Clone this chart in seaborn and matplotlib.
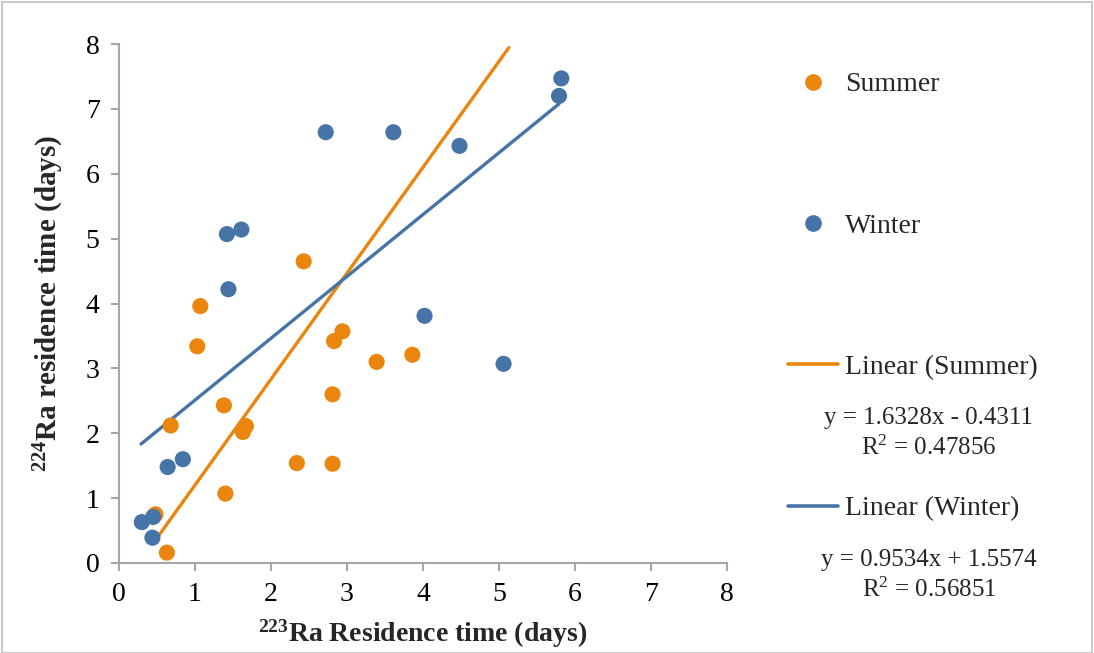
import matplotlib
matplotlib.use("Agg")
import matplotlib.pyplot as plt
import seaborn as sns
import pandas as pd
import numpy as np
from matplotlib.lines import Line2D
from matplotlib.patches import Rectangle

# ---- data ----
summer_x = [2.43, 1.07, 2.94, 2.83, 1.03, 3.39, 3.86, 2.81, 1.38, 0.68, 1.67, 1.63, 2.34, 2.81, 1.40, 0.48, 0.63]
summer_y = [4.65, 3.96, 3.57, 3.42, 3.34, 3.10, 3.21, 2.60, 2.43, 2.12, 2.11, 2.02, 1.54, 1.53, 1.07, 0.75, 0.16]
winter_x = [2.72, 3.61, 1.42, 1.61, 1.44, 4.02, 0.64, 0.84, 0.30, 0.45, 0.44, 5.82, 5.79, 4.48, 5.06]
winter_y = [6.64, 6.64, 5.07, 5.14, 4.22, 3.81, 1.48, 1.60, 0.63, 0.71, 0.39, 7.47, 7.20, 6.43, 3.07]

summer_fit = {"slope": 1.6328, "intercept": -0.4311, "r2": 0.47856, "xrange": [0.47, 5.13]}
winter_fit = {"slope": 0.9534, "intercept": 1.5574, "r2": 0.56851, "xrange": [0.29, 5.79]}

ticks = list(range(0, 9))

ORANGE = "#EA850D"
BLUE = "#4674A6"
GREY = "#A6A6A6"

sns.set_theme(style="white")
plt.rcParams["font.family"] = ["Liberation Serif", "DejaVu Serif"]
plt.rcParams["mathtext.default"] = "regular"

df = pd.concat([
    pd.DataFrame({"x": summer_x, "y": summer_y, "season": "Summer"}),
    pd.DataFrame({"x": winter_x, "y": winter_y, "season": "Winter"}),
])

fig = plt.figure(figsize=(10.94, 6.53), dpi=100)
ax = fig.add_axes([119/1094, 1-563/653, (727-119)/1094, (563-44)/653])

sns.scatterplot(data=df, x="x", y="y", hue="season", palette={"Summer": ORANGE, "Winter": BLUE},
                s=135, linewidth=0, ax=ax, legend=False, zorder=3)

for fit, col in [(summer_fit, ORANGE), (winter_fit, BLUE)]:
    xs = np.array(fit["xrange"])
    ys = fit["slope"] * xs + fit["intercept"]
    sns.lineplot(x=xs, y=ys, color=col, linewidth=2.4, ax=ax, zorder=2)

ax.set_xlim(0, 8)
ax.set_ylim(0, 8)
ax.set_xticks(ticks)
ax.set_yticks(ticks)
ax.set_xticklabels([str(t) for t in ticks])
ax.set_yticklabels([str(t) for t in ticks])
for side in ["top", "right"]:
    ax.spines[side].set_visible(False)
for side in ["left", "bottom"]:
    ax.spines[side].set_color(GREY)
    ax.spines[side].set_linewidth(1.5)
ax.tick_params(axis="both", which="both", direction="out", length=6, width=1.5, color=GREY,
               labelsize=20, labelcolor="black", bottom=True, left=True, pad=8)

ax.set_xlabel(r"$^{223}$Ra Residence time (days)", fontsize=20, fontweight="bold", labelpad=7)
ax.set_ylabel(r"$^{224}$Ra residence time (days)", fontsize=21, fontweight="bold", labelpad=14)

handles = [
    Line2D([], [], marker="o", linestyle="none", color=ORANGE, markersize=11),
    Line2D([], [], marker="o", linestyle="none", color=BLUE, markersize=11),
    Line2D([], [], color=ORANGE, linewidth=2.6),
    Line2D([], [], color=BLUE, linewidth=2.6),
]
labels = ["Summer", "Winter", "Linear (Summer)", "Linear (Winter)"]
leg = fig.legend(handles, labels, loc="upper left", bbox_to_anchor=(788/1094, 1-72/653),
                 frameon=False, fontsize=20, labelspacing=4.17, handlelength=1.8,
                 handletextpad=0.25, borderaxespad=0, borderpad=0)

for fit, ytop in [(summer_fit, 418), (winter_fit, 560)]:
    sign = "-" if fit["intercept"] < 0 else "+"
    fig.text(929/1094, 1-ytop/653, f"y = {fit['slope']:.4f}x {sign} {abs(fit['intercept']):.4f}",
             ha="center", va="center", fontsize=18)
    fig.text(929/1094, 1-(ytop+30)/653, f"R$^2$ = {fit['r2']:.5f}",
             ha="center", va="center", fontsize=18)

fig.add_artist(Rectangle((0.002, 0.0), 0.996, 0.997, transform=fig.transFigure,
                         fill=False, edgecolor="#BFBFBF", linewidth=1.2))

fig.savefig("out.png", dpi=100)
